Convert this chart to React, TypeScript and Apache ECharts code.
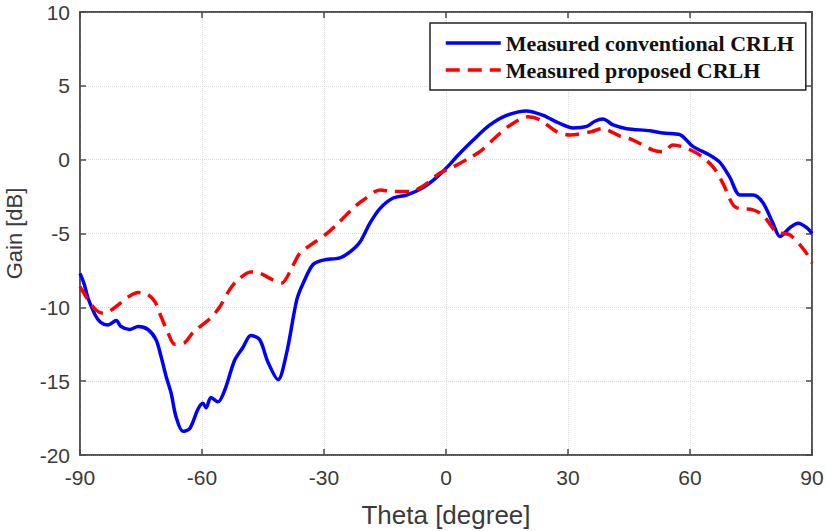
import React, { useEffect, useRef } from "react";
import * as echarts from "echarts";

const xTicks = [-90, -60, -30, 0, 30, 60, 90];
const yTicks = [-20, -15, -10, -5, 0, 5, 10];

const thetaConv = [
  -90, -89, -88, -86.3, -85, -83.1, -81.1, -79.9, -77.8, -75.7, -73.3, -71.3, -70, -68.8, -67.6,
  -66.4, -64.7, -63, -61, -59.8, -59, -57.8, -56.1, -54.4, -52, -49.9, -48, -45.8, -43.8, -41.3,
  -39.2, -36.7, -35.1, -32.7, -30.2, -26.1, -23.6, -21.2, -18.7, -16.2, -13, -9.7, -5.7, -2.3, 1,
  2.6, 6.7, 10.8, 14.9, 19.8, 23.9, 27.6, 31.3, 34.6, 36.6, 38.6, 41.1, 44.4, 50.2, 53.4, 57.5,
  60.7, 64.9, 67.4, 69.8, 72.3, 75.5, 77.9, 80.4, 82.1, 84.6, 86.6, 88.7, 90,
];
const gainConv = [
  -7.7, -8.4, -9.4, -10.5, -11.0, -11.2, -10.9, -11.3, -11.5, -11.3, -11.5, -12.2, -13.4, -14.7, -15.8,
  -17.4, -18.4, -18.2, -16.9, -16.5, -16.8, -16.1, -16.4, -15.6, -13.6, -12.7, -11.9, -12.2, -13.7, -14.9,
  -13.1, -9.5, -8.35, -7.1, -6.8, -6.65, -6.25, -5.6, -4.3, -3.3, -2.6, -2.4, -1.9, -1.2, -0.3,
  0.2, 1.33, 2.35, 3.0, 3.3, 3.0, 2.5, 2.15, 2.25, 2.6, 2.75, 2.35, 2.1, 1.96, 1.8, 1.7,
  0.9, 0.3, -0.2, -1.2, -2.4, -2.4, -2.9, -4.3, -5.2, -4.6, -4.3, -4.6, -5.0,
];

const thetaProp = [
  -90, -88, -86, -84.3, -82.4, -80, -78.2, -75.7, -73.5, -71.6, -70.4, -68.4, -66.7, -64.3, -62.2,
  -57.8, -55.7, -53.2, -51.2, -48, -45.7, -42.5, -40.4, -38.4, -35.9, -33.4, -29.3, -26.9, -22.9,
  -20.4, -16.2, -13, -8.9, -5.7, -1.5, 1.7, 6.3, 8.8, 12.8, 15.3, 20.2, 23.1, 27.2, 30.5, 35.8,
  38.3, 42.8, 46, 50.9, 53.4, 55.8, 61.6, 65.7, 68.1, 71.1, 75.5, 77.9, 81.3, 84.6, 88.3, 90,
];
const gainProp = [
  -8.6, -9.5, -10.2, -10.4, -10.2, -9.7, -9.3, -9.0, -9.1, -9.6, -10.4, -11.7, -12.5, -12.4, -11.7,
  -10.7, -10.0, -8.8, -8.15, -7.6, -7.7, -8.15, -8.35, -7.6, -6.3, -5.8, -5.0, -4.4, -3.3,
  -2.75, -2.05, -2.15, -2.15, -1.8, -0.9, -0.5, 0.2, 0.65, 1.67, 2.25, 2.9, 2.7, 1.9, 1.67, 1.9,
  2.1, 1.6, 1.33, 0.65, 0.54, 1.0, 0.45, -0.5, -1.6, -3.2, -3.4, -3.75, -4.9, -5.1, -6.2, -7.0,
];

const seriesNames = ["Measured conventional CRLH", "Measured proposed CRLH"];

export default function App() {
  const ref = useRef<HTMLDivElement>(null);
  useEffect(() => {
    if (!ref.current) return;
    const chart = echarts.init(ref.current, undefined, { renderer: "svg" });
    const axisColor = "#4a4a4a";
    const labelStyle = { fontFamily: "Liberation Sans", fontSize: 21, color: "#3a3a3a" };
    chart.setOption({
      animation: false,
      backgroundColor: "#ffffff",
      grid: {
        left: 80,
        right: 15,
        top: 12,
        bottom: 76,
        containLabel: false,
        outerBoundsMode: "none",
        show: true,
        borderColor: axisColor,
        borderWidth: 1.5,
      },
      legend: {
        left: 430,
        top: 23,
        orient: "vertical",
        align: "left",
        padding: [9, 12, 9, 14],
        itemGap: 5,
        itemWidth: 55,
        itemHeight: 14,
        backgroundColor: "#ffffff",
        borderColor: "#222222",
        borderWidth: 1.5,
        borderRadius: 0,
        itemStyle: { opacity: 0 },
        lineStyle: { width: 3.5 },
        textStyle: {
          fontFamily: "Liberation Serif",
          fontWeight: "bold",
          fontSize: 22,
          color: "#111111",
        },
        data: seriesNames,
      },
      xAxis: [
        {
          type: "value",
          min: xTicks[0],
          max: xTicks[xTicks.length - 1],
          interval: 30,
          name: "Theta [degree]",
          nameLocation: "middle",
          nameGap: 47,
          nameTextStyle: { fontFamily: "Liberation Sans", fontSize: 26, color: "#3a3a3a" },
          axisLine: { show: true, onZero: false, lineStyle: { color: axisColor, width: 1.5 } },
          axisTick: { show: true, inside: true, length: 6, lineStyle: { color: axisColor, width: 1.5 } },
          axisLabel: { ...labelStyle, margin: 12 },
          splitLine: { show: true, lineStyle: { color: "#dcdcdc", type: "dotted", width: 1 } },
        },
        {
          type: "value",
          position: "top",
          min: xTicks[0],
          max: xTicks[xTicks.length - 1],
          interval: 30,
          axisLine: { show: true, onZero: false, lineStyle: { color: axisColor, width: 1.5 } },
          axisTick: { show: true, inside: true, length: 6, lineStyle: { color: axisColor, width: 1.5 } },
          axisLabel: { show: false },
          splitLine: { show: false },
        },
      ],
      yAxis: [
        {
          type: "value",
          min: yTicks[0],
          max: yTicks[yTicks.length - 1],
          interval: 5,
          name: "Gain [dB]",
          nameLocation: "middle",
          nameGap: 55,
          nameTextStyle: { fontFamily: "Liberation Sans", fontSize: 22, color: "#3a3a3a" },
          axisLine: { show: true, onZero: false, lineStyle: { color: axisColor, width: 1.5 } },
          axisTick: { show: true, inside: true, length: 6, lineStyle: { color: axisColor, width: 1.5 } },
          axisLabel: { ...labelStyle, margin: 10 },
          splitLine: { show: true, lineStyle: { color: "#dcdcdc", type: "dotted", width: 1 } },
        },
        {
          type: "value",
          position: "right",
          min: yTicks[0],
          max: yTicks[yTicks.length - 1],
          interval: 5,
          axisLine: { show: true, onZero: false, lineStyle: { color: axisColor, width: 1.5 } },
          axisTick: { show: true, inside: true, length: 6, lineStyle: { color: axisColor, width: 1.5 } },
          axisLabel: { show: false },
          splitLine: { show: false },
        },
      ],
      series: [
        {
          name: seriesNames[0],
          type: "line",
          showSymbol: false,
          symbol: "none",
          smooth: 0.3,
          data: thetaConv.map((t, i) => [t, gainConv[i]]),
          lineStyle: { color: "#0000ff", width: 3.5 },
          itemStyle: { color: "#0000ff" },
          z: 3,
        },
        {
          name: seriesNames[1],
          type: "line",
          showSymbol: false,
          symbol: "none",
          smooth: 0.3,
          data: thetaProp.map((t, i) => [t, gainProp[i]]),
          lineStyle: { color: "#ff0000", width: 3.5, type: [14, 8] },
          itemStyle: { color: "#ff0000" },
          z: 4,
        },
      ],
    });
    return () => chart.dispose();
  }, []);
  return (
    <div
      ref={ref}
      style={{ position: "fixed", left: 0, top: 0, width: 827, height: 531 }}
    />
  );
}
